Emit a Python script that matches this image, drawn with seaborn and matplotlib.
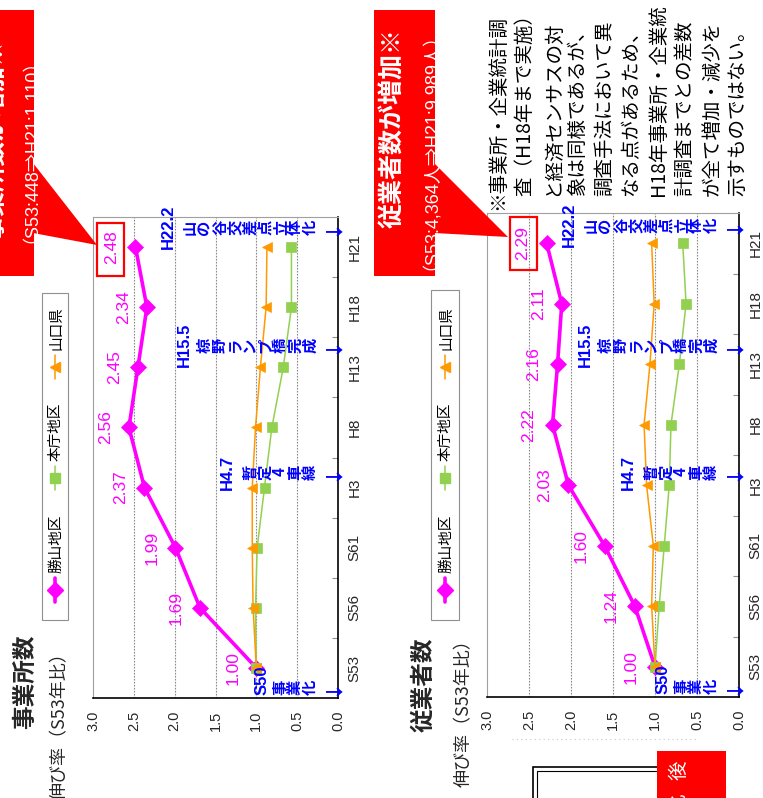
import numpy as np
import matplotlib
matplotlib.use("Agg")
import matplotlib.pyplot as plt
import seaborn as sns
from matplotlib.patches import Rectangle, Polygon
from matplotlib.lines import Line2D

# ---------------- data ----------------
categories = ["S53", "S56", "S61", "H3", "H8", "H13", "H18", "H21"]
series_names = ["勝山地区", "本庁地区", "山口県"]

est_katsuyama = [1.00, 1.69, 1.99, 2.37, 2.56, 2.45, 2.34, 2.48]
est_honcho = [1.00, 1.01, 0.99, 0.90, 0.81, 0.67, 0.57, 0.57]
est_yamaguchi = [1.00, 1.04, 1.05, 1.05, 1.01, 0.95, 0.88, 0.87]

emp_katsuyama = [1.00, 1.24, 1.60, 2.03, 2.22, 2.16, 2.11, 2.29]
emp_honcho = [1.00, 0.95, 0.89, 0.83, 0.81, 0.71, 0.63, 0.67]
emp_yamaguchi = [1.00, 1.04, 1.02, 1.10, 1.13, 1.06, 1.01, 1.04]

value_ticks = [0.0, 0.5, 1.0, 1.5, 2.0, 2.5, 3.0]

events = [("S50", "事業化↓"), ("H4.7", "暫定4車線↓"),
          ("H15.5", "椋野ランプ橋完成↓"), ("H22.2", "山の谷交差点立体化↓")]

note_lines = ["※事業所・企業統計調", "査（H18年まで実施）", "と経済センサスの対",
              "象は同様であるが、", "調査手法において異", "なる点があるため、",
              "H18年事業所・企業統", "計調査までとの差数", "が全て増加・減少を",
              "示すものではない。"]

# ---------------- style ----------------
MAGENTA = "#FF00FF"
GREEN = "#92D050"
ORANGE = "#FF9900"
BLUE = "#0000FF"
RED = "#FF0000"

sns.set_style("white")
plt.rcParams["font.family"] = ["Noto Sans CJK JP", "DejaVu Sans"]
NUM = ["Liberation Sans Narrow", "Liberation Sans", "DejaVu Sans"]
NUMJ = ["Liberation Sans", "Noto Sans CJK JP", "DejaVu Sans"]

W, H = 763, 798
fig = plt.figure(figsize=(W / 100, H / 100), dpi=100)
fig.patch.set_facecolor("white")


def P(x, y):
    return (x / W, 1 - y / H)


def ftext(x, y, s, **kw):
    kw.setdefault("rotation", 90)
    kw.setdefault("ha", "center")
    kw.setdefault("va", "center")
    return fig.text(x / W, 1 - y / H, s, **kw)


def frect(x0, y0, x1, y1, **kw):
    r = Rectangle(P(x0, y1), (x1 - x0) / W, (y1 - y0) / H,
                  transform=fig.transFigure, **kw)
    fig.add_artist(r)
    return r


def fpoly(pts, **kw):
    p = Polygon([P(x, y) for x, y in pts], closed=True,
                transform=fig.transFigure, **kw)
    fig.add_artist(p)
    return p


def fline(xs, ys, **kw):
    l = Line2D([x / W for x in xs], [1 - y / H for y in ys],
               transform=fig.transFigure, **kw)
    fig.add_artist(l)
    return l


def draw_chart(box, k_vals, h_vals, y_vals, ev_y):
    x0, y0, x1, y1 = box
    ax = fig.add_axes([x0 / W, 1 - y1 / H, (x1 - x0) / W, (y1 - y0) / H])
    pos = np.arange(len(categories))
    sns.lineplot(x=k_vals, y=pos, orient="y", sort=False, estimator=None,
                 color=MAGENTA, lw=2.6, marker="D", markersize=8,
                 markeredgecolor=MAGENTA, markeredgewidth=0.5, ax=ax, zorder=3)
    sns.lineplot(x=h_vals, y=pos, orient="y", sort=False, estimator=None,
                 color=GREEN, lw=1.1, marker="s", markersize=6.5,
                 markeredgecolor=GREEN, markeredgewidth=0.5, ax=ax, zorder=4)
    sns.lineplot(x=y_vals, y=pos, orient="y", sort=False, estimator=None,
                 color=ORANGE, lw=1.1, marker="<", markersize=7,
                 markeredgecolor=ORANGE, markeredgewidth=0.5, ax=ax, zorder=5)
    ax.set_xlim(3.0, 0.0)
    ax.set_ylim(-0.5, len(categories) - 0.5)
    ax.set_xticks(value_ticks)
    ax.set_xticklabels([f"{v:.1f}" for v in value_ticks], rotation=90,
                       fontsize=10.5, family=NUM)
    ax.tick_params(axis="x", length=0, pad=9)
    ax.yaxis.tick_right()
    ax.set_yticks(pos)
    ax.set_yticklabels(categories, rotation=90, va="center", fontsize=11,
                       family=NUM)
    ax.tick_params(axis="y", which="major", length=0, pad=7, right=True,
                   left=False, labelright=True, labelleft=False)
    ax.set_yticks(pos[:-1] + 0.5, minor=True)
    ax.tick_params(axis="y", which="minor", direction="in", length=4,
                   color="#909090", width=0.8, right=True, left=False)
    ax.set_xlabel("")
    ax.set_ylabel("")
    for v in value_ticks[1:-1]:
        ax.axvline(v, color="#8a8a8a", lw=0.8, ls=(0, (1.5, 1.2)), zorder=0)
    for s in ("top", "left"):
        ax.spines[s].set_color("#a0a0a0")
        ax.spines[s].set_linewidth(0.8)
    for s in ("bottom", "right"):
        ax.spines[s].set_color("black")
        ax.spines[s].set_linewidth(1.2)
    ax.grid(False)
    # data labels
    for i, v in enumerate(k_vals):
        ax.annotate(f"{v:.2f}", xy=(v, i), xytext=(-17, 0),
                    textcoords="offset points", rotation=90, ha="center",
                    va="center", color=MAGENTA, fontsize=12.5, family=NUM)
    # event annotations
    spine = x1
    lab_off = [76, 111, 154, 170]
    for (lab, col), yy, off in zip(events, ev_y, lab_off):
        ftext(spine - off, yy - (7 if lab == "S50" else 0), lab, color=BLUE,
              fontsize=12, fontweight="bold", family=NUM)
        chars = list(col)
        n = len(chars)
        for j, ch in enumerate(chars):
            if j == n - 1:
                ftext(spine - 7, yy, ch, color=BLUE, fontsize=13,
                      fontweight="bold")
            else:
                xc = spine - 28 - (n - 2 - j) * 15
                ftext(xc, yy, ch, color=BLUE, fontsize=11, fontweight="bold")
    return ax


def draw_legend(x0, x1, y0, y1):
    frect(x0, y0, x1, y1, fill=True, fc="white", ec="#909090", lw=0.8)
    xc = (x0 + x1) / 2
    specs = [(590, MAGENTA, 2.6, "D", 8), (478, GREEN, 1.1, "s", 6.5),
             (367, ORANGE, 1.1, "<", 7)]
    for name, (m, col, lw, mk, ms) in zip(series_names, specs):
        fline([xc, xc], [m - 12, m + 12], color=col, lw=lw)
        fline([xc], [m], color=col, marker=mk, markersize=ms, lw=0,
              markeredgecolor=col)
        ftext(xc + 1, m - 17, name, va="bottom", fontsize=10.5, color="black")


# ---------------- charts ----------------
draw_chart((93, 217, 338, 698), est_katsuyama, est_honcho, est_yamaguchi,
           [687, 472, 345, 227])
draw_chart((487, 213, 739, 697), emp_katsuyama, emp_honcho, emp_yamaguchi,
           [686, 472, 345, 225])

draw_legend(42, 68, 293, 620)
draw_legend(431, 459, 290, 620)

# titles
ftext(25, 682, "事業所数", fontsize=17, fontweight="bold")
ftext(60, 643, "伸び率（S53年比）", va="top", fontsize=13)
ftext(424, 685, "従業者数", fontsize=17, fontweight="bold")
ftext(464, 630, "伸び率（S53年比）", va="top", fontsize=13)

# red boxes around the last labels
frect(97, 223, 124, 276, fill=False, ec=RED, lw=1.6)
frect(510, 217, 537, 270, fill=False, ec=RED, lw=1.6)

# callouts
frect(0, 10, 34, 276, fc=RED, ec="none")
fpoly([(33, 163), (33, 233), (97, 245)], fc=RED, ec="none")
ftext(-5, 140, "事業所数が増加※", color="white", fontsize=18,
      fontweight="bold")
ftext(21, 142, "（S53:448⇒H21:1,110）", color="white", fontsize=13,
      family=NUMJ)

frect(374, 10, 435, 276, fc=RED, ec="none")
fpoly([(434, 163), (434, 233), (508, 237)], fc=RED, ec="none")
ftext(393, 128, "従業者数が増加※", color="white", fontsize=18,
      fontweight="bold")
ftext(421, 143, "（S53:4,364人⇒H21:9,989人）", color="white", fontsize=13,
      family=NUMJ)

# note
note_x = [498, 525, 552, 578, 605, 631, 658, 685, 712, 738]
for i, (line, xx) in enumerate(zip(note_lines, note_x)):
    ftext(xx, 210 if i == 0 else 196, line, va="bottom", fontsize=14,
          color="black")

# bottom decorations (partially visible)
fline([512, 698], [739, 739], color="#c8c8c8", lw=0.8, ls=(0, (1, 3)))
frect(533, 767, 705, 812, fill=False, ec="black", lw=1.2)
frect(537, 771, 701, 812, fill=False, ec="black", lw=0.8)
ftext(563, 793, "（参考）", va="top", fontsize=14, color="black")
frect(657, 751, 726, 800, fc=RED, ec="none")
ftext(679, 770, "後", fontsize=14, color="white")
ftext(679, 803, "化", fontsize=14, color="white")

fig.savefig("out.png", dpi=100)
